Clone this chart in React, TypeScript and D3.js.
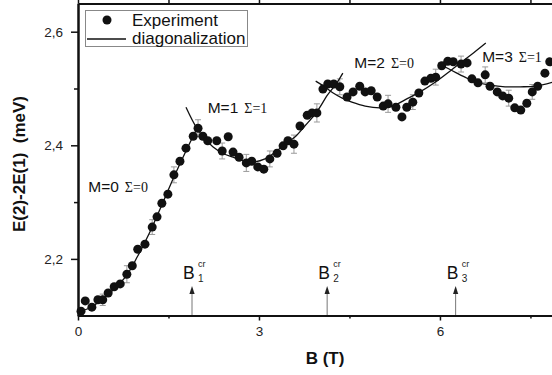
import React, { useEffect, useRef } from 'react';
import * as d3 from 'd3';

// Experimental points: magnetic field B (T) and E(2)-2E(1) (meV)
const expB = [0.05, 0.12, 0.23, 0.33, 0.41, 0.50, 0.60, 0.70, 0.81, 0.90,
  0.99, 1.11, 1.23, 1.31, 1.39, 1.49, 1.59, 1.69, 1.79, 1.91,
  1.99, 2.07, 2.15, 2.30, 2.39, 2.49, 2.57, 2.67, 2.79, 2.88,
  2.98, 3.08, 3.18, 3.30, 3.40, 3.48, 3.58, 3.68, 3.80, 3.88,
  3.96, 4.06, 4.14, 4.24, 4.34, 4.46, 4.56, 4.67, 4.76, 4.86,
  4.96, 5.06, 5.14, 5.27, 5.37, 5.45, 5.55, 5.65, 5.75, 5.85,
  5.93, 6.03, 6.13, 6.22, 6.35, 6.45, 6.53, 6.63, 6.75, 6.83,
  6.95, 7.04, 7.14, 7.24, 7.34, 7.44, 7.53, 7.62, 7.74, 7.82];
const expE = [2.108, 2.126, 2.115, 2.128, 2.128, 2.140, 2.151, 2.156, 2.173, 2.188,
  2.217, 2.226, 2.256, 2.274, 2.298, 2.314, 2.348, 2.372, 2.395, 2.416,
  2.430, 2.416, 2.408, 2.408, 2.390, 2.415, 2.388, 2.379, 2.369, 2.372,
  2.362, 2.358, 2.376, 2.386, 2.399, 2.408, 2.402, 2.434, 2.453, 2.457,
  2.457, 2.499, 2.508, 2.508, 2.503, 2.485, 2.494, 2.504, 2.494, 2.496,
  2.485, 2.469, 2.473, 2.467, 2.450, 2.467, 2.476, 2.492, 2.513, 2.518,
  2.520, 2.540, 2.548, 2.547, 2.543, 2.545, 2.517, 2.510, 2.524, 2.504,
  2.494, 2.487, 2.483, 2.466, 2.462, 2.474, 2.494, 2.504, 2.527, 2.547];

// error bars: which points carry one, and the half height (meV)
const errIndex = [4, 8, 12, 16, 20, 24, 28, 32, 36, 40, 44, 52, 56, 60, 64, 68, 72, 76];
const errHalf = [0.010, 0.015, 0.013, 0.014, 0.015, 0.014, 0.015, 0.014, 0.016,
  0.016, 0.014, 0.015, 0.013, 0.014, 0.014, 0.014, 0.014, 0.013];

// diagonalization branches [B, E]
const theoryM0: [number, number][] = [[0.00, 2.107], [0.20, 2.114], [0.40, 2.129], [0.60, 2.147],
  [0.80, 2.170], [0.99, 2.205], [1.19, 2.247], [1.39, 2.295], [1.59, 2.344], [1.79, 2.390], [1.97, 2.429]];
const theoryM1: [number, number][] = [[1.79, 2.467], [1.97, 2.430], [2.11, 2.411], [2.24, 2.397],
  [2.40, 2.386], [2.57, 2.379], [2.77, 2.372], [2.93, 2.371], [3.10, 2.376], [3.27, 2.388],
  [3.43, 2.402], [3.60, 2.415], [3.76, 2.434], [3.96, 2.459], [4.14, 2.489], [4.28, 2.508], [4.39, 2.527]];
const theoryM2: [number, number][] = [[3.94, 2.513], [4.09, 2.503], [4.23, 2.492], [4.38, 2.483],
  [4.54, 2.476], [4.76, 2.469], [5.01, 2.466], [5.22, 2.469], [5.42, 2.480], [5.67, 2.494],
  [5.92, 2.511], [6.17, 2.531], [6.36, 2.547], [6.56, 2.563], [6.76, 2.580]];
const theoryM3: [number, number][] = [[5.97, 2.545], [6.12, 2.536], [6.28, 2.527], [6.45, 2.518],
  [6.61, 2.511], [6.83, 2.506], [7.08, 2.503], [7.33, 2.503], [7.58, 2.504], [7.86, 2.511]];

// critical fields and state labels
const critB = [1.89, 4.13, 6.26];
const critSub = ['1', '2', '3'];
const stateM = ['M=0', 'M=1', 'M=2', 'M=3'];
const stateSigma = ['\u03A3=0', '\u03A3=1', '\u03A3=0', '\u03A3=1'];
const stateB = [0.17, 2.15, 4.58, 6.7];
const stateE = [2.318, 2.457, 2.536, 2.547];

const yMajor = [2.2, 2.4, 2.6];
const yMinor = [2.3, 2.5];
const xMajor = [0, 3, 6];
const xMinor = [1.5, 4.5, 7.5];

const SANS = '"Liberation Sans", Arial, sans-serif';
const SERIF = '"Liberation Serif", "Times New Roman", serif';

const App: React.FC = () => {
  const svgRef = useRef<SVGSVGElement>(null);

  useEffect(() => {
    if (!svgRef.current) return;
    const svg = d3.select(svgRef.current);
    svg.selectAll('*').remove();

    const x = d3.scaleLinear().domain([0, 8]).range([78, 560.6]);
    const y = d3.scaleLinear().domain([2.1, 2.65]).range([315.7, 3.3]);
    const fmt = (v: number) => d3.format('.1f')(v).replace('.', ',');

    svg.append('rect').attr('width', 552).attr('height', 375).attr('fill', '#fff');

    // error bars
    const eb = svg.append('g').attr('stroke', '#9a9a9a').attr('stroke-width', 1);
    errIndex.forEach((idx, k) => {
      const cx = x(expB[idx]);
      const y1 = y(expE[idx] + errHalf[k]);
      const y2 = y(expE[idx] - errHalf[k]);
      eb.append('line').attr('x1', cx).attr('x2', cx).attr('y1', y1).attr('y2', y2);
      eb.append('line').attr('x1', cx - 3).attr('x2', cx + 3).attr('y1', y1).attr('y2', y1);
      eb.append('line').attr('x1', cx - 3).attr('x2', cx + 3).attr('y1', y2).attr('y2', y2);
    });

    // theory lines
    const line = d3.line<[number, number]>()
      .x(d => x(d[0]))
      .y(d => y(d[1]))
      .curve(d3.curveCatmullRom);
    [theoryM0, theoryM1, theoryM2, theoryM3].forEach(seg => {
      svg.append('path')
        .datum(seg)
        .attr('fill', 'none')
        .attr('stroke', '#111')
        .attr('stroke-width', 1.3)
        .attr('d', line);
    });

    // experiment dots
    svg.append('g')
      .selectAll('circle')
      .data(expB)
      .enter()
      .append('circle')
      .attr('cx', d => x(d))
      .attr('cy', (_d, i) => y(expE[i]))
      .attr('r', 4.5)
      .attr('fill', '#111');

    // axes
    const styleAxis = (g: d3.Selection<SVGGElement, unknown, null, undefined>) => {
      g.select('.domain').attr('stroke', '#111').attr('stroke-width', 2);
      g.selectAll('.tick line').attr('stroke', '#111').attr('stroke-width', 1.5);
      g.selectAll('.tick text')
        .attr('fill', '#222')
        .style('font-family', SANS)
        .style('font-size', '13.5px');
    };

    svg.append('g')
      .attr('transform', 'translate(78,0)')
      .call(d3.axisLeft(y).tickValues(yMinor).tickSize(4).tickSizeOuter(0).tickFormat(() => ''))
      .call(styleAxis);
    svg.append('g')
      .attr('transform', 'translate(78,0)')
      .call(d3.axisLeft(y).tickValues(yMajor).tickSize(7).tickPadding(8).tickSizeOuter(0).tickFormat(d => fmt(d as number)))
      .call(styleAxis);

    svg.append('g')
      .attr('transform', 'translate(0,315.5)')
      .call(d3.axisBottom(x).tickValues(xMinor).tickSize(3).tickSizeOuter(0).tickFormat(() => ''))
      .call(styleAxis);
    svg.append('g')
      .attr('transform', 'translate(0,315.5)')
      .call(d3.axisBottom(x).tickValues(xMajor).tickSize(5).tickPadding(6).tickSizeOuter(0).tickFormat(d => String(d)))
      .call(styleAxis);

    svg.append('g')
      .attr('transform', 'translate(0,3.5)')
      .call(d3.axisTop(x).tickValues([...xMajor, ...xMinor]).tickSize(3.5).tickSizeOuter(0).tickFormat(() => ''))
      .call(styleAxis);

    // axis titles
    svg.append('text')
      .attr('transform', 'translate(25,164) rotate(-90)')
      .attr('text-anchor', 'middle')
      .style('font-family', SANS)
      .style('font-size', '17px')
      .style('font-weight', 'bold')
      .style('white-space', 'pre')
      .attr('fill', '#111')
      .text('E(2)-2E(1)  (meV)');

    svg.append('text')
      .attr('x', 325)
      .attr('y', 364)
      .attr('text-anchor', 'middle')
      .style('font-family', SANS)
      .style('font-size', '17px')
      .style('font-weight', 'bold')
      .attr('fill', '#111')
      .text('B (T)');

    // state labels
    stateM.forEach((m, i) => {
      const t = svg.append('text')
        .attr('x', x(stateB[i]))
        .attr('y', y(stateE[i]))
        .attr('fill', '#111');
      t.append('tspan').style('font-family', SANS).style('font-size', '15.5px').text(m);
      t.append('tspan').attr('dx', 6).style('font-family', SERIF).style('font-size', '14px').text(stateSigma[i]);
    });

    // critical field arrows
    critB.forEach((b, i) => {
      const cx = x(b);
      const g = svg.append('g');
      g.append('line')
        .attr('x1', cx).attr('x2', cx)
        .attr('y1', 315).attr('y2', 292)
        .attr('stroke', '#777').attr('stroke-width', 1);
      g.append('path')
        .attr('d', `M${cx},286 L${cx - 2.6},294 L${cx + 2.6},294 Z`)
        .attr('fill', '#222');
      g.append('text')
        .attr('x', cx - 9).attr('y', 279)
        .style('font-family', SANS).style('font-size', '17.5px')
        .attr('fill', '#111')
        .text('B');
      g.append('text')
        .attr('x', cx + 6).attr('y', 282)
        .style('font-family', SANS).style('font-size', '10px')
        .attr('fill', '#222')
        .text(critSub[i]);
      g.append('text')
        .attr('x', cx + 6).attr('y', 267)
        .style('font-family', SANS).style('font-size', '9px')
        .attr('fill', '#222')
        .text('cr');
    });

    // legend
    const lg = svg.append('g');
    lg.append('rect')
      .attr('x', 85.5).attr('y', 10.5)
      .attr('width', 162).attr('height', 36)
      .attr('fill', '#fff')
      .attr('stroke', '#888');
    lg.append('circle').attr('cx', 107).attr('cy', 20).attr('r', 4.5).attr('fill', '#111');
    lg.append('line')
      .attr('x1', 87).attr('x2', 126)
      .attr('y1', 39).attr('y2', 39)
      .attr('stroke', '#111').attr('stroke-width', 1.3);
    lg.append('text')
      .attr('x', 132).attr('y', 26)
      .style('font-family', SANS).style('font-size', '17px')
      .attr('fill', '#111')
      .text('Experiment');
    lg.append('text')
      .attr('x', 132).attr('y', 44)
      .style('font-family', SANS).style('font-size', '17px')
      .attr('fill', '#111')
      .text('diagonalization');
  }, []);

  return (
    <div>
      <svg
        ref={svgRef}
        width="552"
        height="375"
        style={{ position: 'absolute', left: 0, top: 0 }}
      ></svg>
    </div>
  );
};

export default App;
